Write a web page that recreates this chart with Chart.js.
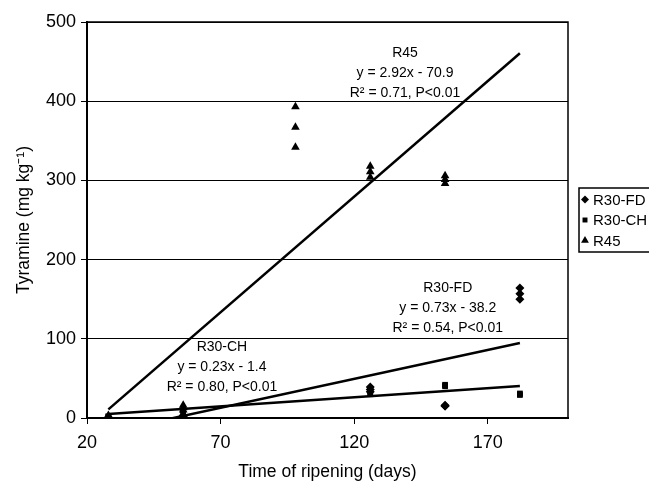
<!DOCTYPE html>
<html>
<head>
<meta charset="utf-8">
<script src="https://cdn.jsdelivr.net/npm/chart.js@4/dist/chart.umd.min.js"></script>
<style>
  html, body { margin: 0; padding: 0; background: #fff; }
  #wrap { width: 649px; height: 483px; }
</style>
</head>
<body>
<div id="wrap"><canvas id="tyramine-chart"></canvas></div>
<script>
/* tyramine vs ripening time */
const days = [28, 56, 98, 126, 154, 182];
const r30fd = [[0, 0, 1], [1, 2, 3], [], [33, 36, 39], [15, 15, 16], [150, 157, 164]];
const r30ch = [[1, 2, 2], [8, 9, 10], [], [30, 32, 34], [40, 41, 42], [29, 30, 31]];
const r45 = [[1, 2, 3], [10, 13, 16], [342, 367, 393], [304, 311, 318], [296, 301, 306], []];
const seriesNames = ['R30-FD', 'R30-CH', 'R45'];
const slopes = [0.73, 0.23, 2.92];
const intercepts = [-38.2, -1.4, -70.9];
const r2 = ['0.54', '0.80', '0.71'];
const fitRange = [28, 182];
const xTicks = [20, 70, 120, 170];
const yTicks = [0, 100, 200, 300, 400, 500];

const markers = ['rectRot', 'rect', 'triangle'];
const markerSize = [4.5, 4, 5];

function toPoints(vals) {
  const pts = [];
  vals.forEach((reps, i) => reps.forEach(v => pts.push({x: days[i], y: v})));
  return pts;
}
function fitLine(i) {
  return fitRange.map(x => ({x: x, y: slopes[i] * x + intercepts[i]}));
}

const scatterSets = [r30fd, r30ch, r45].map((vals, i) => ({
  type: 'scatter',
  label: seriesNames[i],
  data: toPoints(vals),
  pointStyle: markers[i],
  pointRadius: markerSize[i],
  pointBackgroundColor: '#000',
  pointBorderColor: '#000',
  pointBorderWidth: 0
}));
const fitSets = seriesNames.map((n, i) => ({
  type: 'line',
  label: n + ' fit',
  data: fitLine(i),
  borderColor: '#000',
  borderWidth: 2.5,
  pointRadius: 0,
  fill: false
}));

// where the equation labels sit (data coordinates of the first line)
const notes = [
  {x: 155, y: 164},
  {x: 70.5, y: 90},
  {x: 139, y: 461}
];

const extras = {
  id: 'extras',
  afterDraw(chart) {
    const ctx = chart.ctx, a = chart.chartArea;
    const xs = chart.scales.x, ys = chart.scales.y;
    ctx.save();
    // frame top + right
    ctx.strokeStyle = '#000';
    ctx.lineWidth = 1.5;
    ctx.beginPath();
    ctx.moveTo(a.left, a.top);
    ctx.lineTo(a.right, a.top);
    ctx.lineTo(a.right, a.bottom);
    ctx.stroke();

    // equations
    ctx.fillStyle = '#000';
    ctx.font = '14px "Liberation Sans", Arial, sans-serif';
    ctx.textAlign = 'center';
    ctx.textBaseline = 'middle';
    notes.forEach((n, i) => {
      const px = xs.getPixelForValue(n.x), py = ys.getPixelForValue(n.y);
      const sign = intercepts[i] < 0 ? ' - ' : ' + ';
      const lines = [
        seriesNames[i],
        'y = ' + slopes[i].toFixed(2) + 'x' + sign + Math.abs(intercepts[i]).toFixed(1),
        'R\u00B2 = ' + r2[i] + ', P<0.01'
      ];
      lines.forEach((t, k) => ctx.fillText(t, px, py + k * 20));
    });

    // legend
    const lx = a.right + 11;
    const cy = (a.top + a.bottom) / 2;
    const lh = 20.5;
    ctx.lineWidth = 1.5;
    ctx.strokeRect(lx, cy - 32, 90, 64);
    ctx.font = '15px "Liberation Sans", Arial, sans-serif';
    ctx.textAlign = 'left';
    seriesNames.forEach((n, i) => {
      const y = cy + (i - 1) * lh;
      Chart.helpers.drawPoint(ctx, {pointStyle: markers[i], radius: markerSize[i] - 0.5, borderWidth: 0}, lx + 6, y);
      ctx.fillText(n, lx + 14, y + 1);
    });
    ctx.restore();
  }
};

new Chart(document.getElementById('tyramine-chart').getContext('2d'), {
  data: { datasets: scatterSets.concat(fitSets) },
  options: {
    responsive: true,
    maintainAspectRatio: false,
    animation: false,
    layout: { padding: { top: 22, right: 81, left: 0, bottom: 0 } },
    plugins: { legend: { display: false }, tooltip: { enabled: false } },
    scales: {
      x: {
        type: 'linear',
        min: 20, max: 200,
        afterBuildTicks: s => { s.ticks = xTicks.map(v => ({value: v})); },
        afterFit: s => { s.height = 65; },
        grid: { drawOnChartArea: false, color: '#000', tickLength: 6, lineWidth: 1 },
        border: { color: '#000', width: 2 },
        ticks: { color: '#000', padding: 8, font: { family: '"Liberation Sans", Arial', size: 18 } },
        title: {
          display: true, text: 'Time of ripening (days)', color: '#000',
          font: { family: '"Liberation Sans", Arial', size: 17.5 },
          padding: { top: 0, bottom: 0 }
        }
      },
      y: {
        type: 'linear',
        min: 0, max: 500,
        afterBuildTicks: s => { s.ticks = yTicks.map(v => ({value: v})); },
        afterFit: s => { s.width = 87; },
        grid: { color: '#000', tickLength: 6, lineWidth: 1 },
        border: { color: '#000', width: 2 },
        ticks: { color: '#000', padding: 5, font: { family: '"Liberation Sans", Arial', size: 18 } },
        title: {
          display: true, text: 'Tyramine (mg kg\u207B\u00B9)', color: '#000',
          font: { family: '"Liberation Sans", Arial', size: 17.5 },
          padding: { top: 14, bottom: 0 }
        }
      }
    }
  },
  plugins: [extras]
});
</script>
</body>
</html>
